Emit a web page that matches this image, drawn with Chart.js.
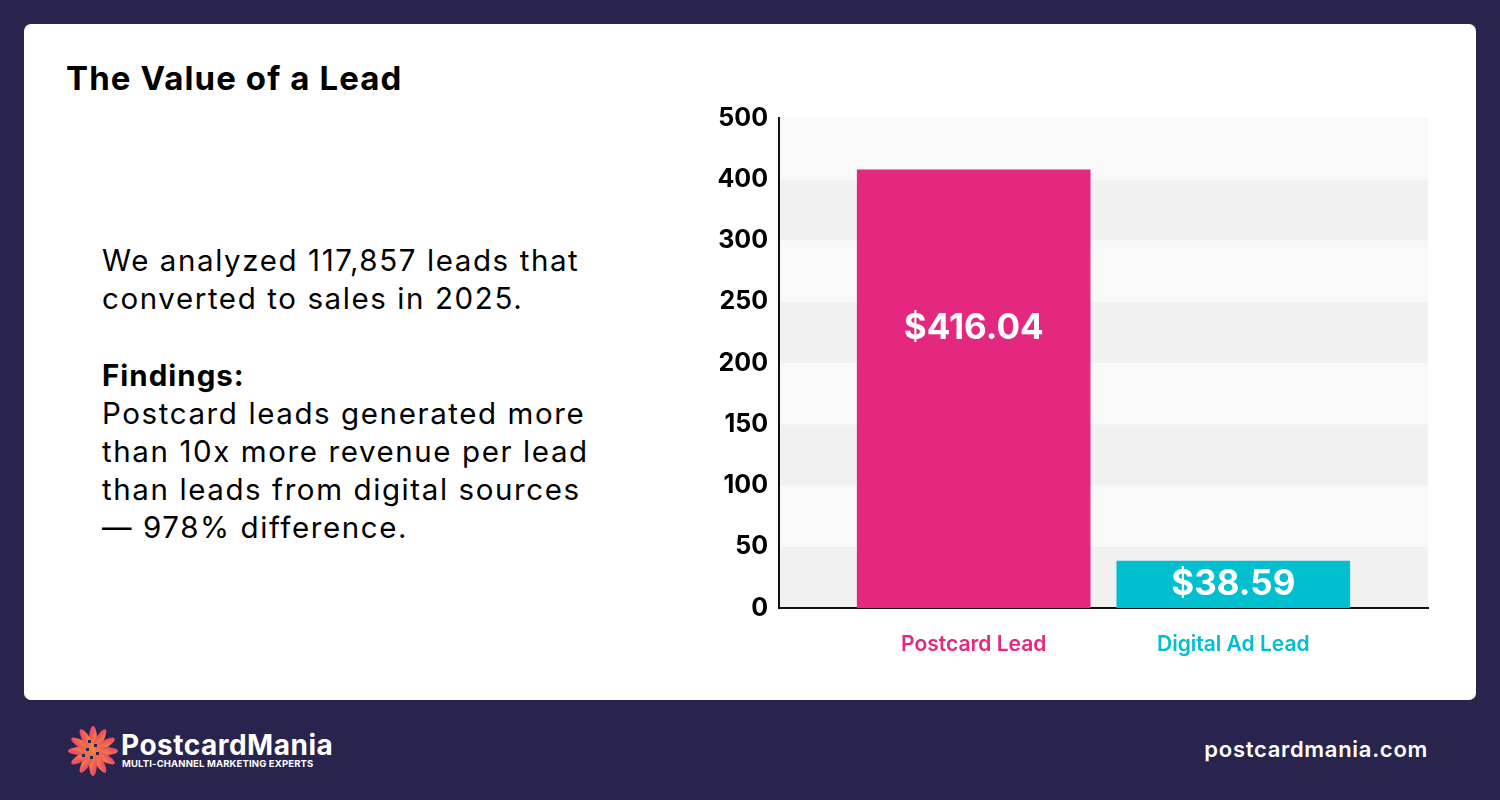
<!DOCTYPE html>
<html>
<head>
<meta charset="utf-8">
<script src="https://cdn.jsdelivr.net/npm/chart.js@4/dist/chart.umd.min.js"></script>
<style>
  html, body { margin: 0; padding: 0; }
  body { width: 1500px; height: 800px; background: #29244d; position: relative; overflow: hidden; font-family: Inter, "Noto Sans", sans-serif; }
  .card { position: absolute; left: 24px; top: 24px; width: 1452px; height: 676px; background: #fff; border-radius: 7px; }
  .title { position: absolute; left: 66px; top: 62px; font-size: 33px; font-weight: 700; line-height: 33px; color: #000; letter-spacing: 1.1px; }
  .body { position: absolute; left: 102px; font-size: 29.5px; line-height: 38px; color: #000; letter-spacing: 1.6px; }
  .body b { font-weight: 700; letter-spacing: 1px; }
  #wrap { position: absolute; left: 640px; top: 90px; width: 820px; height: 600px; }
  .logo { position: absolute; left: 66px; top: 724px; }
  .brand { position: absolute; left: 121px; top: 731px; color: #fff; font-size: 28px; font-weight: 700; line-height: 28px; letter-spacing: 0.5px; }
  .tag { position: absolute; left: 122px; top: 759px; color: #fff; font-size: 9.5px; font-weight: 700; line-height: 10px; letter-spacing: 0.15px; }
  .site { position: absolute; right: 72px; top: 735px; color: #fff; font-size: 22px; font-weight: 600; line-height: 28px; letter-spacing: 0.7px; }
</style>
</head>
<body>
<div class="card"></div>
<div class="title">The Value of a Lead</div>
<div class="body" style="top:241px">We analyzed 117,857 leads that<br>converted to sales in 2025.</div>
<div class="body" style="top:356px"><b>Findings:</b><br>Postcard leads generated more<br>than 10x more revenue per lead<br>than leads from digital sources<br>— 978% difference.</div>
<div id="wrap"><canvas id="chart" width="820" height="600"></canvas></div>

<svg class="logo" width="54" height="54" viewBox="0 0 54 54">
  <defs>
    <linearGradient id="g" x1="0" y1="0" x2="1" y2="1">
      <stop offset="0" stop-color="#e8317e"/>
      <stop offset="1" stop-color="#f8a51c"/>
    </linearGradient>
  </defs>
  <g fill="url(#g)" transform="translate(27 27)">
    <ellipse rx="4" ry="13" transform="rotate(0) translate(0 -12)"/>
    <ellipse rx="4" ry="13" transform="rotate(30) translate(0 -12)"/>
    <ellipse rx="4" ry="13" transform="rotate(60) translate(0 -12)"/>
    <ellipse rx="4" ry="13" transform="rotate(90) translate(0 -12)"/>
    <ellipse rx="4" ry="13" transform="rotate(120) translate(0 -12)"/>
    <ellipse rx="4" ry="13" transform="rotate(150) translate(0 -12)"/>
    <ellipse rx="4" ry="13" transform="rotate(180) translate(0 -12)"/>
    <ellipse rx="4" ry="13" transform="rotate(210) translate(0 -12)"/>
    <ellipse rx="4" ry="13" transform="rotate(240) translate(0 -12)"/>
    <ellipse rx="4" ry="13" transform="rotate(270) translate(0 -12)"/>
    <ellipse rx="4" ry="13" transform="rotate(300) translate(0 -12)"/>
    <ellipse rx="4" ry="13" transform="rotate(330) translate(0 -12)"/>
  </g>
  <g fill="#29244d">
    <rect x="22" y="16" width="3" height="3"/><rect x="28" y="20" width="3" height="3"/>
    <rect x="20" y="24" width="3" height="3"/><rect x="30" y="28" width="3" height="3"/>
    <rect x="24" y="32" width="3" height="3"/><rect x="16" y="30" width="3" height="3"/>
  </g>
</svg>
<div class="brand">PostcardMania</div>
<div class="tag">MULTI-CHANNEL MARKETING EXPERTS</div>
<div class="site">postcardmania.com</div>

<script>
const categories = ['Postcard Lead', 'Digital Ad Lead'];
const revenuePerLead = [416.04, 38.59];
const valueLabels = ['$416.04', '$38.59'];
const yTickLabels = [0, 50, 100, 150, 200, 250, 300, 400, 500];
const barColors = ['#e5287f', '#00bfcf'];
const bandColors = ['#f1f1f1', '#f9f9f9'];

// the axis labels sit evenly spaced, so values are placed piecewise between them
const toSlot = v => {
  for (let i = 0; i < yTickLabels.length - 1; i++) {
    const a = yTickLabels[i], b = yTickLabels[i + 1];
    if (v <= b) return i + (v - a) / (b - a);
  }
  return yTickLabels.length - 1;
};

const bands = {
  id: 'bands',
  beforeDraw(chart) {
    const {ctx, chartArea, scales} = chart;
    ctx.save();
    for (let i = 0; i < yTickLabels.length - 1; i++) {
      const y0 = scales.y.getPixelForValue(i);
      const y1 = scales.y.getPixelForValue(i + 1);
      ctx.fillStyle = bandColors[i % 2];
      ctx.fillRect(chartArea.left, y1, chartArea.right - chartArea.left, y0 - y1);
    }
    ctx.restore();
  }
};

const barText = {
  id: 'barText',
  afterDatasetsDraw(chart) {
    const {ctx} = chart;
    ctx.save();
    ctx.fillStyle = '#fff';
    ctx.font = '700 35px Inter';
    ctx.textAlign = 'center';
    ctx.textBaseline = 'middle';
    chart.getDatasetMeta(0).data.forEach((bar, i) => {
      const h = bar.base - bar.y;
      ctx.fillText(valueLabels[i], bar.x, bar.y + Math.min(h / 2, 159));
    });
    ctx.restore();
  }
};

new Chart(document.getElementById('chart').getContext('2d'), {
  type: 'bar',
  data: {
    datasets: [{
      data: revenuePerLead.map((v, i) => ({x: i, y: toSlot(v)})),
      backgroundColor: barColors,
      borderWidth: 0,
      barPercentage: 0.9,
      categoryPercentage: 1
    }]
  },
  options: {
    responsive: false,
    animation: false,
    layout: {padding: {top: 28, right: 32, bottom: 22, left: 0}},
    plugins: {legend: {display: false}, tooltip: {enabled: false}},
    scales: {
      x: {
        type: 'linear',
        offset: false,
        min: -0.75,
        max: categories.length - 0.25,
        afterBuildTicks: s => { s.ticks = categories.map((c, i) => ({value: i})); },
        afterFit: s => { s.height = 60; },
        grid: {display: false, drawTicks: false},
        border: {display: true, color: '#111', width: 2},
        ticks: {
          padding: 24,
          color: c => barColors[c.index],
          font: {family: 'Inter', size: 21, weight: '600'},
          callback: v => categories[v]
        }
      },
      y: {
        min: 0,
        max: yTickLabels.length - 1,
        afterBuildTicks: s => { s.ticks = yTickLabels.map((t, i) => ({value: i})); },
        afterFit: s => { s.width = 139; },
        grid: {display: false, drawTicks: false},
        border: {display: true, color: '#111', width: 2},
        ticks: {
          padding: 11,
          color: '#000',
          font: {family: 'Inter', size: 25, weight: '700'},
          callback: v => yTickLabels[v]
        }
      }
    }
  },
  plugins: [bands, barText]
});
</script>
</body>
</html>
